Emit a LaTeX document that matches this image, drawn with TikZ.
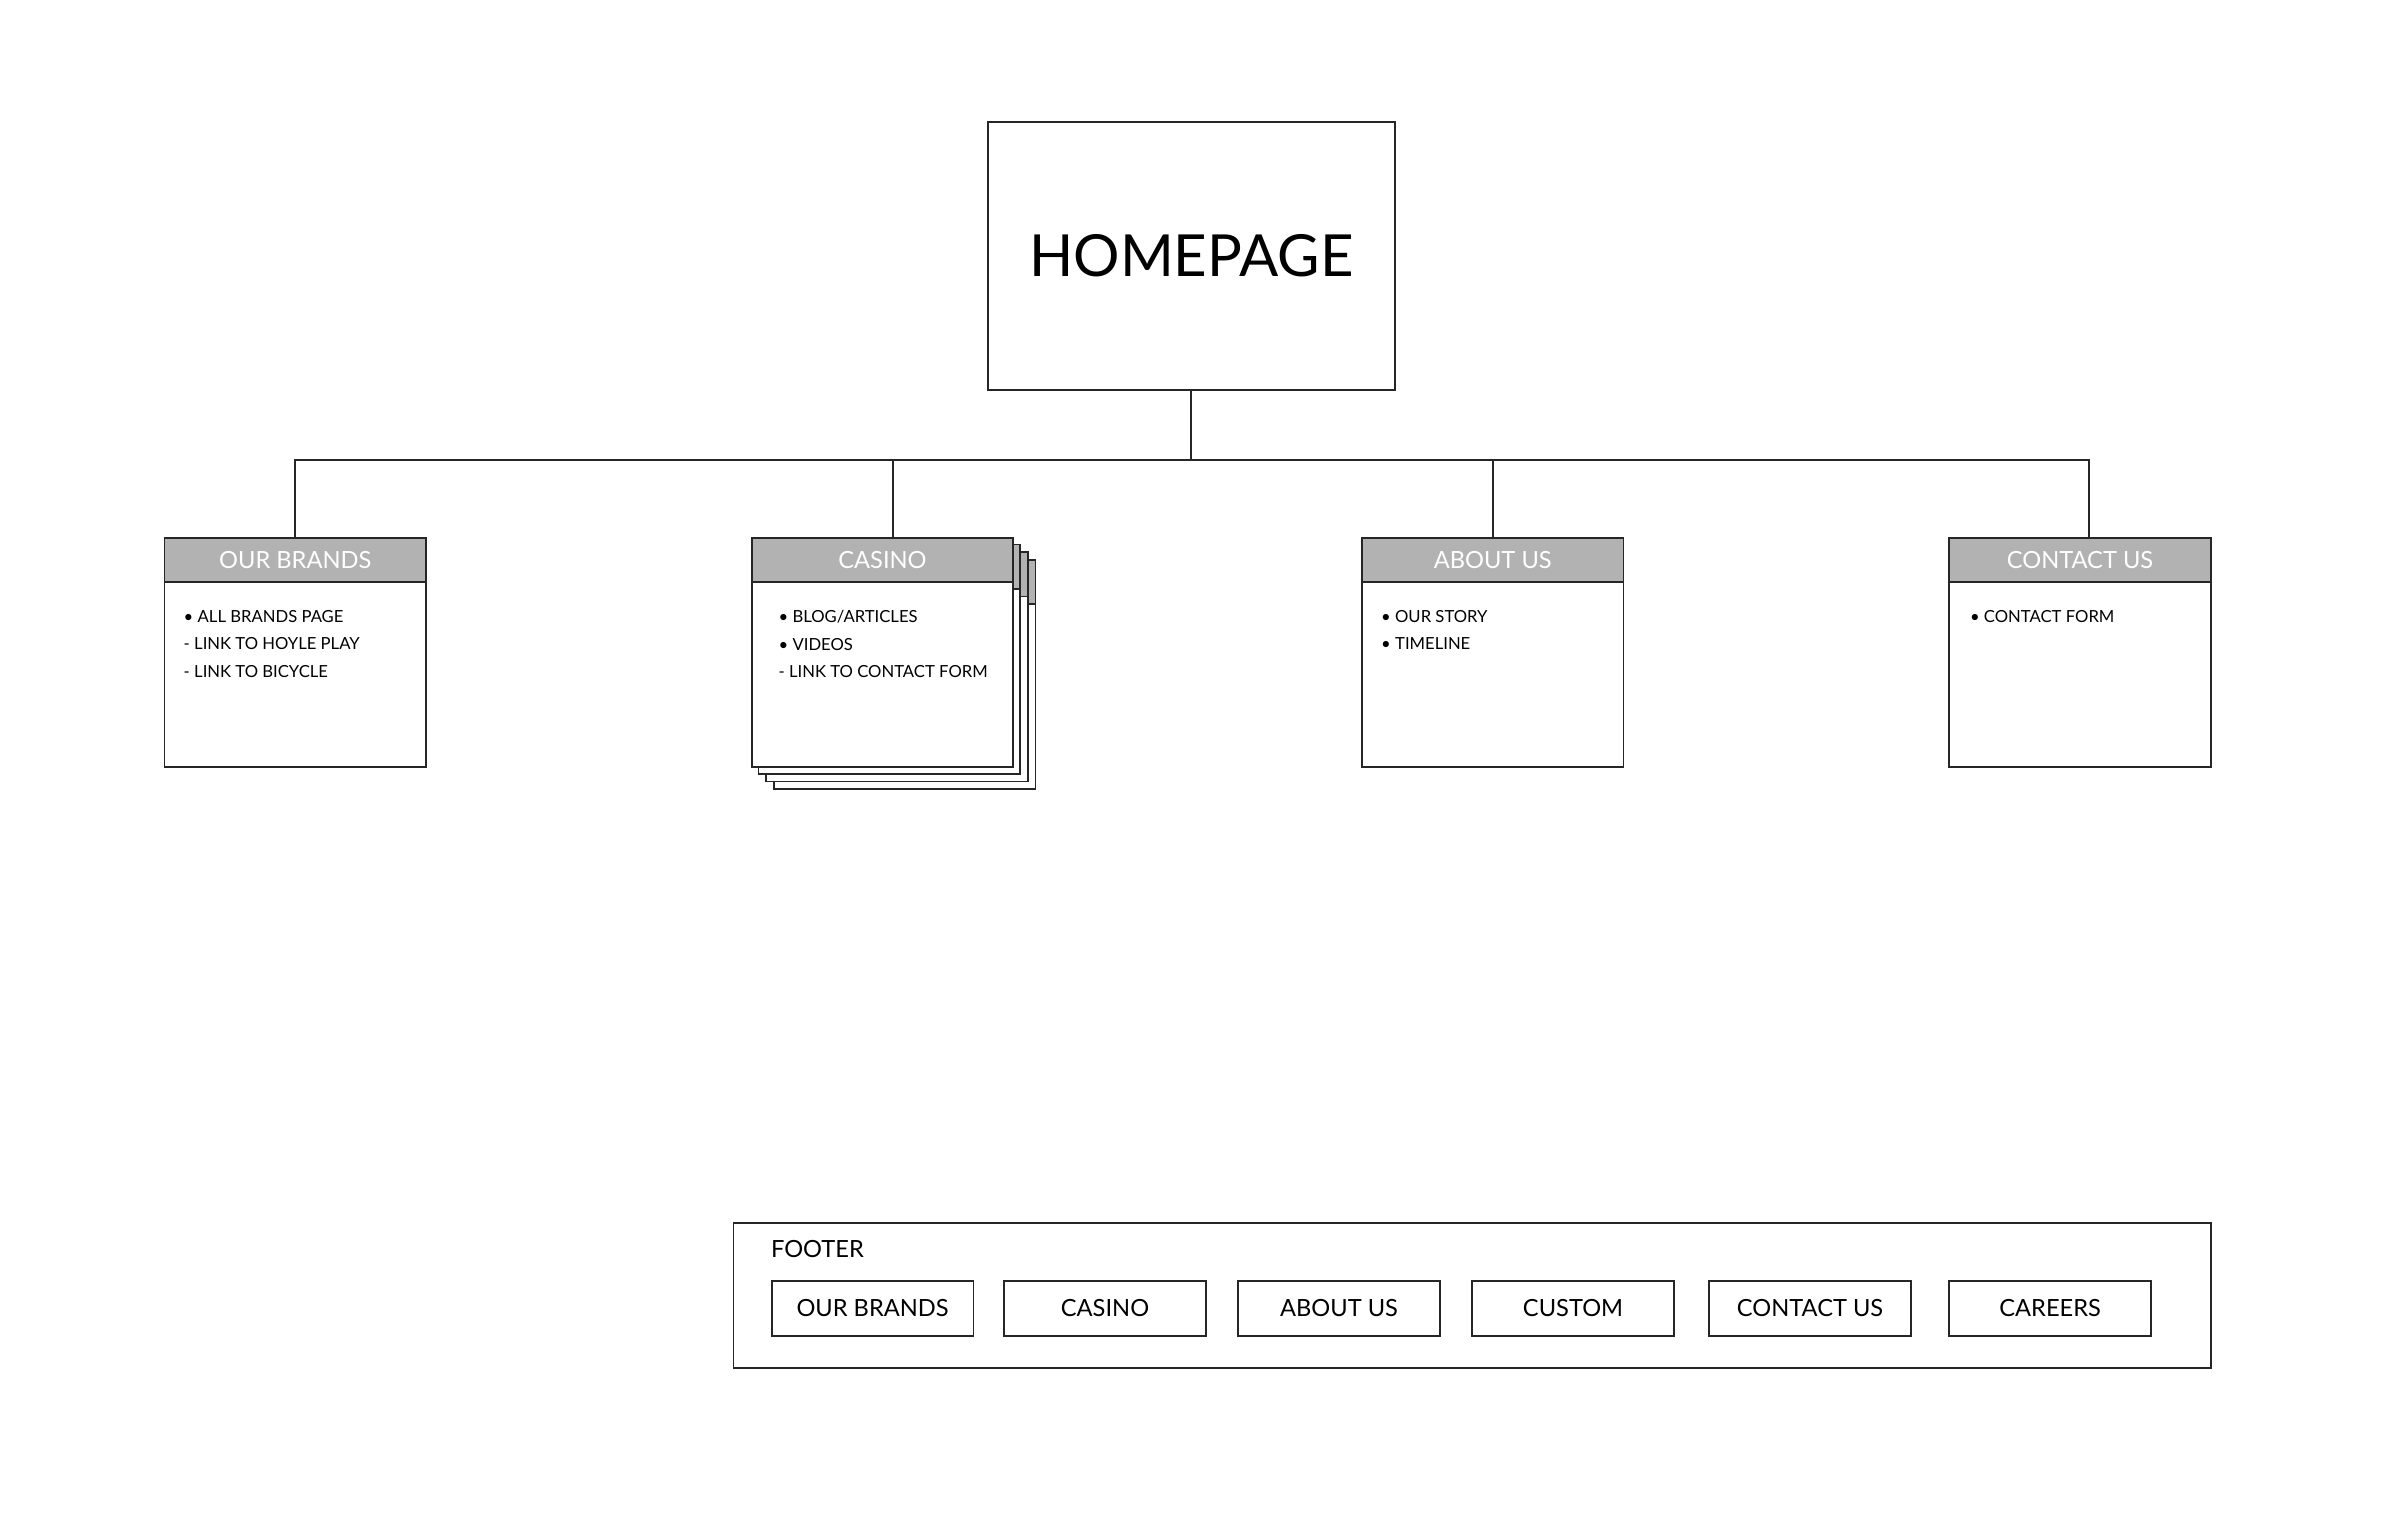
\documentclass[tikz,border=0pt]{standalone}
\usepackage{fontspec}
\setmainfont{Lato}
\begin{document}
\begin{tikzpicture}[x=0.05cm,y=-0.05cm,
  box/.style={draw=black!85,line width=1.6pt,fill=white},
  hdr/.style={draw=black!85,line width=1.6pt,fill=black!30,text=white,font=\fontsize{22}{24}\selectfont,inner sep=0pt},
  btn/.style={draw=black!85,line width=1.6pt,minimum width=132*0.05cm,minimum height=36*0.05cm,inner sep=0pt,font=\fontsize{22}{24}\selectfont},
  itm/.style={anchor=north west,align=left,font=\fontsize{15.5}{25.5}\selectfont,inner sep=0pt},
  con/.style={line width=1.8pt,black!85}]
\useasboundingbox (0,0) rectangle (1568,1005.6);
\node[box,minimum width=266*0.05cm,minimum height=175*0.05cm,inner sep=0pt,font=\fontsize{54}{56}\selectfont] (home) at (779,167.5) {HOMEPAGE};
% casino back layers
\foreach \o in {15,10,5}{
  \draw[box] (491+\o,351+\o) rectangle (662+\o,501+\o);
  \draw[draw=black!85,line width=1.6pt,fill=black!30] (491+\o,351+\o) rectangle (662+\o,380+\o);
}
\foreach \n/\x/\t in {brands/107/OUR BRANDS,casino/491/CASINO,about/890/ABOUT US,contact/1274/CONTACT US}{
  \node[box,minimum width=171*0.05cm,minimum height=150*0.05cm,inner sep=0pt,anchor=north west] (\n) at (\x,351) {};
  \node[hdr,minimum width=171*0.05cm,minimum height=29*0.05cm,anchor=north west] (\n-h) at (\x,351) {\t};
}
\node[itm] (bi) at (120,399) {• ALL BRANDS PAGE\\- LINK TO HOYLE PLAY\\- LINK TO BICYCLE};
\node[itm] (ci) at (509,399) {• BLOG/ARTICLES\\• VIDEOS\\- LINK TO CONTACT FORM};
\node[itm] (ai) at (903,399) {• OUR STORY\\• TIMELINE};
\node[itm] (ki) at (1288,399) {• CONTACT FORM};
\coordinate (j) at (779,301);
\coordinate (cs) at (584,301);
\coordinate (ks) at (1366,301);
\draw[con] (home.south) -- (j);
\draw[con] (brands.north) -- (brands.north|-j) -- (ks) -- (ks|-contact.north);
\draw[con] (cs) -- (cs|-casino.north);
\draw[con] (about.north) -- (about.north|-j);
% footer
\node[box,minimum width=966*0.05cm,minimum height=95*0.05cm,inner sep=0pt,anchor=north west] (footer) at (479,799) {};
\node[anchor=west,inner sep=0pt,font=\fontsize{22}{24}\selectfont] (fl) at (504,817) {FOOTER};
\foreach \n/\x/\t in {f1/504/OUR BRANDS,f2/656/CASINO,f3/809/ABOUT US,f4/962/CUSTOM,f5/1117/CONTACT US,f6/1274/CAREERS}{
  \node[btn,anchor=north west] (\n) at (\x,837) {\t};
}
\end{tikzpicture}
\end{document}
